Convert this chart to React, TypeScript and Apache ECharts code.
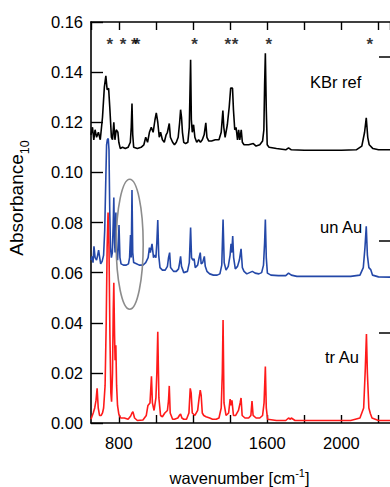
import React, { useEffect, useRef } from "react";
import * as echarts from "echarts";

// [wavenumber (cm^-1), absorbance]
const kbrRef: [number, number][] = [
  [650, 0.115], [658, 0.118], [665, 0.113], [672, 0.117], [680, 0.114], [690, 0.116], [700, 0.113],
  [712, 0.122], [722, 0.134], [730, 0.1385], [737, 0.133], [745, 0.1335], [752, 0.125], [760, 0.114],
  [766, 0.113], [773, 0.12], [779, 0.113], [786, 0.117], [795, 0.116], [800, 0.112], [808, 0.1095],
  [820, 0.11], [835, 0.1095], [850, 0.11], [862, 0.112], [867, 0.118], [871, 0.1275], [875, 0.115],
  [880, 0.11], [900, 0.1095], [920, 0.11], [935, 0.111], [945, 0.114], [955, 0.112], [965, 0.116],
  [975, 0.118], [985, 0.116], [995, 0.121], [1002, 0.1237], [1010, 0.12], [1018, 0.114], [1025, 0.116],
  [1035, 0.113], [1045, 0.112], [1055, 0.115], [1062, 0.116], [1072, 0.1195], [1078, 0.114], [1090, 0.112],
  [1100, 0.111], [1110, 0.112], [1120, 0.114], [1128, 0.12], [1133, 0.125], [1138, 0.122], [1143, 0.116],
  [1150, 0.112], [1160, 0.1115], [1172, 0.112], [1180, 0.118], [1187, 0.1449], [1191, 0.121], [1196, 0.116],
  [1203, 0.119], [1210, 0.114], [1220, 0.112], [1230, 0.113], [1240, 0.112], [1250, 0.113], [1260, 0.115],
  [1269, 0.1198], [1275, 0.114], [1285, 0.1125], [1300, 0.1125], [1320, 0.113], [1340, 0.113], [1352, 0.116],
  [1361, 0.1247], [1366, 0.118], [1373, 0.114], [1385, 0.119], [1395, 0.126], [1403, 0.1336], [1413, 0.1336],
  [1418, 0.125], [1425, 0.117], [1432, 0.118], [1440, 0.113], [1446, 0.117], [1452, 0.113], [1460, 0.117],
  [1466, 0.112], [1475, 0.111], [1500, 0.111], [1525, 0.1115], [1540, 0.1105], [1560, 0.111], [1575, 0.1125],
  [1582, 0.117], [1586, 0.135], [1590, 0.1475], [1595, 0.125], [1600, 0.111], [1610, 0.11], [1650, 0.1095],
  [1700, 0.109], [1715, 0.1098], [1730, 0.109], [1800, 0.1088], [1900, 0.1088], [2000, 0.1088], [2080, 0.109],
  [2110, 0.1105], [2125, 0.116], [2134, 0.1218], [2142, 0.114], [2150, 0.111], [2170, 0.1095], [2200, 0.109],
  [2262, 0.109],
];

const unAu: [number, number][] = [
  [650, 0.065], [655, 0.0665], [661, 0.064], [666, 0.0705], [672, 0.066], [680, 0.065], [686, 0.067],
  [691, 0.069], [697, 0.066], [702, 0.0635], [710, 0.0645], [718, 0.067], [724, 0.077], [730, 0.098],
  [734, 0.111], [738, 0.113], [743, 0.1135], [747, 0.109], [751, 0.085], [755, 0.07], [760, 0.066],
  [765, 0.068], [770, 0.08], [773, 0.09], [777, 0.072], [780, 0.068], [784, 0.084], [788, 0.068],
  [793, 0.065], [797, 0.07], [801, 0.079], [806, 0.066], [812, 0.0635], [825, 0.063], [840, 0.063],
  [852, 0.0635], [858, 0.066], [863, 0.075], [867, 0.066], [871, 0.093], [875, 0.068], [880, 0.064],
  [895, 0.0635], [910, 0.063], [930, 0.063], [945, 0.064], [958, 0.066], [965, 0.07], [970, 0.068],
  [979, 0.0715], [987, 0.066], [993, 0.067], [1000, 0.066], [1005, 0.072], [1010, 0.081], [1015, 0.067],
  [1022, 0.062], [1035, 0.061], [1050, 0.061], [1062, 0.0625], [1068, 0.066], [1074, 0.068], [1079, 0.062],
  [1095, 0.0605], [1110, 0.0605], [1122, 0.0615], [1128, 0.064], [1133, 0.0665], [1138, 0.0625], [1150, 0.06],
  [1170, 0.0605], [1180, 0.064], [1187, 0.078], [1192, 0.066], [1199, 0.065], [1206, 0.0655], [1212, 0.062],
  [1225, 0.063], [1233, 0.066], [1239, 0.068], [1244, 0.0635], [1252, 0.064], [1261, 0.0665], [1266, 0.0625],
  [1275, 0.0605], [1290, 0.0595], [1310, 0.059], [1330, 0.059], [1345, 0.0595], [1355, 0.063], [1362, 0.0812],
  [1368, 0.064], [1378, 0.061], [1390, 0.0625], [1400, 0.067], [1405, 0.0715], [1409, 0.068], [1414, 0.0746],
  [1419, 0.066], [1428, 0.0615], [1440, 0.0625], [1450, 0.065], [1459, 0.0695], [1466, 0.062], [1475, 0.0605],
  [1490, 0.0595], [1505, 0.06], [1520, 0.0605], [1535, 0.0598], [1555, 0.0595], [1570, 0.06], [1580, 0.063],
  [1586, 0.072], [1590, 0.0812], [1595, 0.066], [1601, 0.0598], [1620, 0.059], [1660, 0.0588], [1700, 0.0588],
  [1715, 0.0598], [1730, 0.059], [1760, 0.0585], [1850, 0.0585], [1950, 0.0585], [2050, 0.0585], [2100, 0.059],
  [2118, 0.062], [2127, 0.07], [2134, 0.0785], [2140, 0.067], [2148, 0.062], [2158, 0.0612], [2168, 0.059],
  [2200, 0.0583], [2262, 0.0582],
];

const trAu: [number, number][] = [
  [650, 0.0015], [662, 0.004], [670, 0.006], [677, 0.009], [683, 0.0138], [689, 0.006], [696, 0.003],
  [705, 0.003], [712, 0.004], [718, 0.006], [726, 0.015], [732, 0.04], [737, 0.07], [742, 0.084],
  [747, 0.07], [752, 0.035], [757, 0.012], [761, 0.0085], [766, 0.02], [770, 0.045], [773, 0.056],
  [777, 0.035], [780, 0.025], [784, 0.031], [788, 0.015], [793, 0.007], [800, 0.0035], [810, 0.002],
  [830, 0.002], [850, 0.0015], [864, 0.0028], [871, 0.004], [876, 0.0045], [885, 0.002], [900, 0.001],
  [930, 0.0012], [948, 0.003], [957, 0.007], [968, 0.008], [976, 0.0186], [981, 0.008], [990, 0.005],
  [1000, 0.01], [1005, 0.02], [1010, 0.0364], [1016, 0.01], [1025, 0.003], [1035, 0.0025], [1048, 0.004],
  [1062, 0.005], [1068, 0.009], [1072, 0.0148], [1077, 0.004], [1090, 0.0015], [1100, 0.0015], [1118, 0.002],
  [1128, 0.0032], [1133, 0.0036], [1140, 0.002], [1150, 0.0015], [1165, 0.0015], [1178, 0.004], [1185, 0.0138],
  [1190, 0.012], [1196, 0.004], [1210, 0.003], [1225, 0.005], [1233, 0.01], [1239, 0.0131], [1244, 0.011],
  [1250, 0.004], [1258, 0.003], [1270, 0.0025], [1290, 0.002], [1305, 0.0015], [1325, 0.0015], [1340, 0.002],
  [1352, 0.006], [1358, 0.02], [1362, 0.0411], [1367, 0.008], [1378, 0.003], [1392, 0.004], [1400, 0.0095],
  [1405, 0.007], [1410, 0.009], [1418, 0.003], [1430, 0.003], [1445, 0.005], [1454, 0.008], [1459, 0.01],
  [1465, 0.003], [1480, 0.002], [1500, 0.002], [1512, 0.003], [1518, 0.0088], [1524, 0.003], [1540, 0.002],
  [1560, 0.002], [1575, 0.003], [1583, 0.008], [1590, 0.0225], [1595, 0.006], [1602, 0.0015], [1650, 0.001],
  [1700, 0.001], [1715, 0.002], [1725, 0.0015], [1730, 0.002], [1750, 0.001], [1850, 0.001], [1950, 0.001],
  [2050, 0.001], [2100, 0.002], [2120, 0.006], [2129, 0.022], [2135, 0.0355], [2140, 0.02], [2148, 0.006],
  [2156, 0.0038], [2165, 0.002], [2200, 0.001], [2262, 0.001],
];

// marked band positions (asterisks)
const starBands: [number, number][] = [
  [752, 0.151], [823, 0.151], [884, 0.151], [898, 0.151], [1208, 0.151],
  [1387, 0.151], [1427, 0.151], [1608, 0.151], [2153, 0.151],
];

const yTicks = [0, 0.02, 0.04, 0.06, 0.08, 0.1, 0.12, 0.14, 0.16];
const xLabels = [800, 1200, 1600, 2000];
const traceNames = ["KBr ref", "un Au", "tr Au"];

const FONT = "'Liberation Sans', Arial, Helvetica, sans-serif";

export default function App() {
  const ref = useRef<HTMLDivElement>(null);
  useEffect(() => {
    if (!ref.current) return;
    const chart = echarts.init(ref.current, undefined, { renderer: "svg" });
    const axisLine = { show: true, lineStyle: { color: "#000", width: 1.6 } };
    const option: any = {
      animation: false,
      backgroundColor: "#fff",
      textStyle: { fontFamily: FONT },
      grid: { left: 91, top: 22, width: 300, height: 401, containLabel: false },
      xAxis: [
        {
          type: "value",
          position: "bottom",
          min: 650,
          max: 2262,
          splitNumber: 8,
          axisLine,
          axisTick: { show: true, inside: true, length: 8, lineStyle: { color: "#000", width: 1.4 } },
          axisLabel: {
            color: "#000",
            fontSize: 16.5,
            fontFamily: FONT,
            margin: 11,
            showMinLabel: false,
            showMaxLabel: false,
            formatter: (v: number) => (xLabels.indexOf(v) >= 0 ? String(v) : ""),
          },
          splitLine: { show: false },
        },
        {
          type: "value",
          position: "top",
          min: 650,
          max: 2262,
          splitNumber: 8,
          axisLine,
          axisTick: { show: true, inside: true, length: 8, lineStyle: { color: "#000", width: 1.4 } },
          axisLabel: { show: false },
          splitLine: { show: false },
        },
      ],
      yAxis: {
        type: "value",
        min: yTicks[0],
        max: yTicks[yTicks.length - 1],
        interval: 0.02,
        axisLine,
        axisTick: { show: true, inside: true, length: 12, lineStyle: { color: "#000", width: 1.4 } },
        axisLabel: {
          color: "#000",
          fontSize: 16.5,
          fontFamily: FONT,
          margin: 8,
          formatter: (v: number) => v.toFixed(2),
        },
        splitLine: { show: false },
      },
      series: [
        {
          name: traceNames[0],
          type: "line",
          data: kbrRef,
          showSymbol: false,
          lineStyle: { color: "#000", width: 1.6 },
          itemStyle: { color: "#000" },
          z: 2,
        },
        {
          name: traceNames[1],
          type: "line",
          data: unAu,
          showSymbol: false,
          lineStyle: { color: "#2448a8", width: 1.6 },
          itemStyle: { color: "#2448a8" },
          z: 3,
        },
        {
          name: traceNames[2],
          type: "line",
          data: trAu,
          showSymbol: false,
          lineStyle: { color: "#ff1a1a", width: 1.6 },
          itemStyle: { color: "#ff1a1a" },
          z: 4,
        },
        {
          type: "scatter",
          data: starBands,
          symbolSize: 0,
          silent: true,
          label: {
            show: true,
            position: "inside",
            formatter: "*",
            color: "#000",
            fontSize: 17,
            fontWeight: "bold",
            fontFamily: FONT,
          },
          z: 5,
        },
      ],
      graphic: [
        {
          type: "ellipse",
          shape: { cx: 129.7, cy: 244.3, rx: 13.5, ry: 65 },
          style: { fill: "none", stroke: "#8c8c8c", lineWidth: 1.6 },
          z: 10,
        },
        { type: "line", shape: { x1: 379, y1: 57, x2: 392, y2: 57 }, style: { stroke: "#000", lineWidth: 1.5 } },
        { type: "line", shape: { x1: 379, y1: 241, x2: 392, y2: 241 }, style: { stroke: "#000", lineWidth: 1.5 } },
        { type: "line", shape: { x1: 379, y1: 333, x2: 392, y2: 333 }, style: { stroke: "#000", lineWidth: 1.5 } },
        {
          type: "text",
          x: 310,
          y: 82,
          style: { text: traceNames[0], fill: "#000", fontSize: 16.5, fontFamily: FONT, align: "left", verticalAlign: "middle" },
        },
        {
          type: "text",
          x: 320,
          y: 227,
          style: { text: traceNames[1], fill: "#000", fontSize: 16.5, fontFamily: FONT, align: "left", verticalAlign: "middle" },
        },
        {
          type: "text",
          x: 325,
          y: 357,
          style: { text: traceNames[2], fill: "#000", fontSize: 16.5, fontFamily: FONT, align: "left", verticalAlign: "middle" },
        },
        {
          type: "text",
          x: 239.5,
          y: 477,
          style: {
            text: "{a|wavenumber [cm}{s|-1}{a|]}",
            align: "center",
            verticalAlign: "middle",
            rich: {
              a: { fontSize: 16.5, fontFamily: FONT, fill: "#000", color: "#000", verticalAlign: "bottom" },
              s: { fontSize: 11, fontFamily: FONT, fill: "#000", color: "#000", verticalAlign: "bottom", padding: [0, 0, 8, 0] },
            },
          },
        },
        {
          type: "text",
          x: 19,
          y: 198,
          rotation: Math.PI / 2,
          style: {
            text: "{a|Absorbance}{s|10}",
            align: "center",
            verticalAlign: "middle",
            rich: {
              a: { fontSize: 19, fontFamily: FONT, fill: "#000", color: "#000", verticalAlign: "bottom", padding: [0, 0, 5, 0] },
              s: { fontSize: 12.5, fontFamily: FONT, fill: "#000", color: "#000", verticalAlign: "bottom" },
            },
          },
        },
      ],
    };
    chart.setOption(option);
    return () => chart.dispose();
  }, []);
  return (
    <div
      ref={ref}
      style={{ position: "absolute", left: 0, top: 0, width: 390, height: 487, background: "#fff" }}
    />
  );
}
